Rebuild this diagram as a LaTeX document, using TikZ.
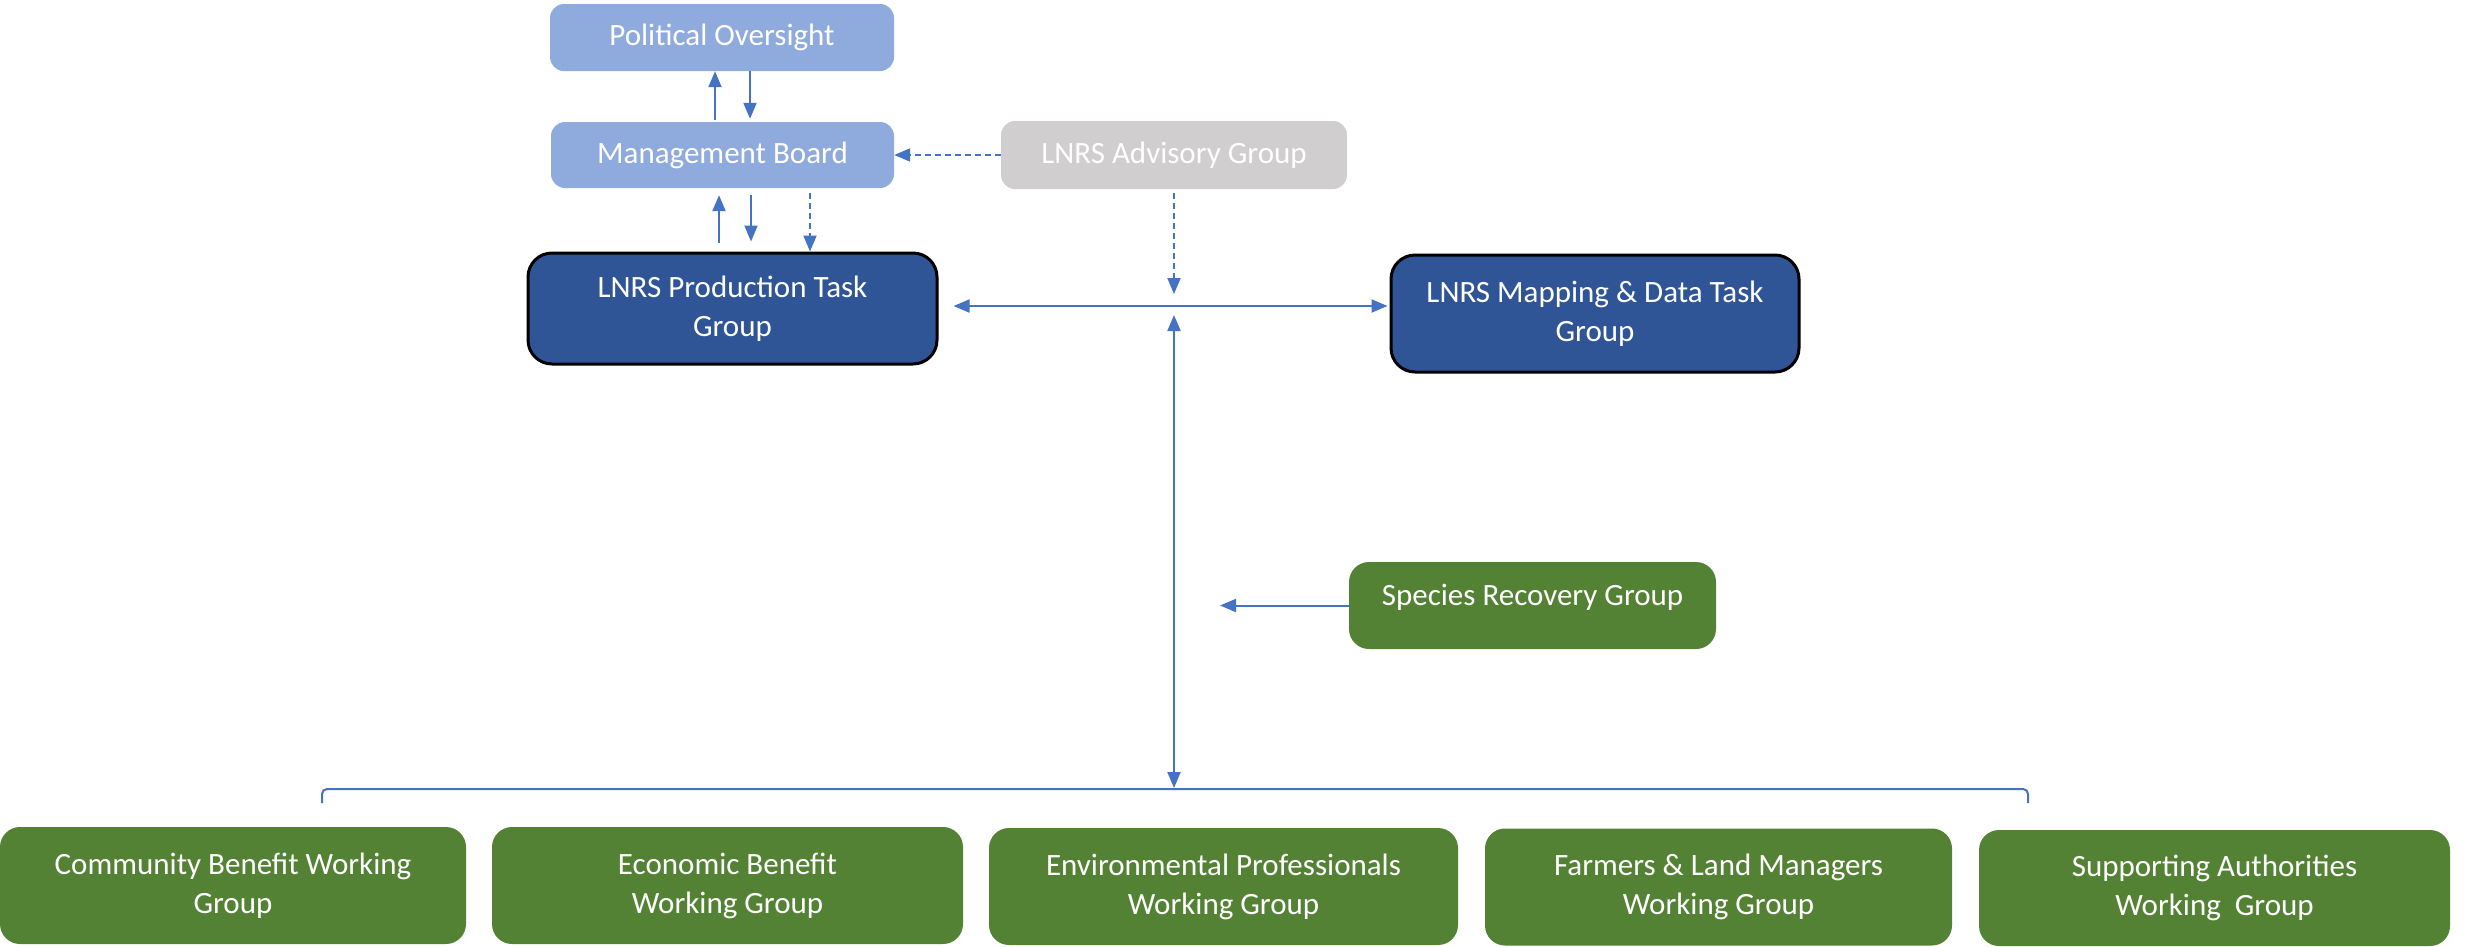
\documentclass[tikz,border=0pt]{standalone}
\usepackage{fontspec}
\setmainfont{Carlito}
\usetikzlibrary{arrows.meta}
\definecolor{lblue}{HTML}{8FAADC}
\definecolor{lgray}{HTML}{D0CECE}
\definecolor{dblue}{HTML}{2F5597}
\definecolor{dgreen}{HTML}{548235}
\definecolor{ablue}{HTML}{4472C4}
\tikzset{
  box/.style={rectangle, inner sep=0pt, align=center, text=white, rounded corners=14pt},
  lightbox/.style={box, fill=lblue},
  graybox/.style={box, fill=lgray},
  taskbox/.style={box, fill=dblue, draw=black, line width=3pt, rounded corners=24pt},
  greenbox/.style={box, fill=dgreen, rounded corners=20pt},
  conn/.style={draw=ablue, line width=2pt},
  arr/.style={conn, -{Triangle[length=16pt,width=13pt]}},
  darr/.style={conn, {Triangle[length=16pt,width=13pt]}-{Triangle[length=16pt,width=13pt]}},
  dsh/.style={arr, dash pattern=on 6pt off 4pt},
}
\begin{document}
\begin{tikzpicture}[x=1pt, y=-1pt, font=\fontsize{31}{39}\selectfont]
\useasboundingbox (0,0) rectangle (2475,946);
% top boxes
\node[lightbox, minimum width=344pt, minimum height=67pt] (po) at (722,37.5) {Political Oversight};
\node[lightbox, minimum width=343pt, minimum height=66pt] (mb) at (722.5,155) {Management Board};
\node[graybox, minimum width=346pt, minimum height=68pt] (adv) at (1174,155) {LNRS Advisory Group};
\node[taskbox, minimum width=409pt, minimum height=111pt] (ptg) at (732.5,308.5) {LNRS Production Task\\Group};
\node[taskbox, minimum width=408pt, minimum height=117pt] (map) at (1595,313.5) {LNRS Mapping \& Data Task\\Group};
\node[greenbox, minimum width=367pt, minimum height=87pt, text height=23pt, text depth=24pt] (sp) at (1532.5,605.5) {Species Recovery Group};
% bottom boxes
\node[greenbox, minimum width=466pt, minimum height=117pt] (cb) at (233,885.5) {Community Benefit Working\\Group};
\node[greenbox, minimum width=471pt, minimum height=117pt] (eb) at (727.5,885.5) {Economic Benefit\\Working Group};
\node[greenbox, minimum width=469pt, minimum height=117pt] (ep) at (1223.5,886.5) {Environmental Professionals\\Working Group};
\node[greenbox, minimum width=467pt, minimum height=117pt] (fl) at (1718.5,887) {Farmers \& Land Managers\\Working Group};
\node[greenbox, minimum width=471pt, minimum height=116pt] (sa) at (2214.5,888) {Supporting Authorities\\Working\ \ Group};
% helper coordinates
\coordinate (xa) at (715,0);
\coordinate (xb) at (750,0);
\coordinate (xc) at (719,0);
\coordinate (xd) at (751,0);
\coordinate (xe) at (810,0);
\coordinate (jn) at (1174,306);
\coordinate (vb) at (1174,789);
\coordinate (spt) at (1220,605.5);
\coordinate (brl) at (322,803);
\coordinate (brr) at (2028,803);
% PO <-> MB
\draw[arr, shorten <=2pt] (mb.north -| xa) -- (po.south -| xa);
\draw[arr, shorten >=3pt] (po.south -| xb) -- (mb.north -| xb);
% Advisory -> MB
\draw[dsh] (adv.west) -- (mb.east);
% MB <-> PTG
\draw[arr, shorten <=9pt, shorten >=7pt] (ptg.north -| xc) -- (mb.south -| xc);
\draw[arr, shorten <=7pt, shorten >=10pt] (mb.south -| xd) -- (ptg.north -| xd);
\draw[dsh, shorten <=5pt] (mb.south -| xe) -- (ptg.north -| xe);
% Advisory -> junction
\draw[dsh, shorten <=4pt, shorten >=12pt] (adv.south) -- (jn);
% PTG <-> Mapping
\draw[darr, shorten <=15pt, shorten >=2pt] (ptg.east |- jn) -- (map.west |- jn);
% vertical
\draw[darr, shorten <=9pt, shorten >=1pt] (jn) -- (vb);
% species
\draw[arr] (sp.west) -- (spt);
% bracket
\draw[conn, rounded corners=5pt] (brl) -- (brl |- vb) -- (brr |- vb) -- (brr);
\end{tikzpicture}
\end{document}
